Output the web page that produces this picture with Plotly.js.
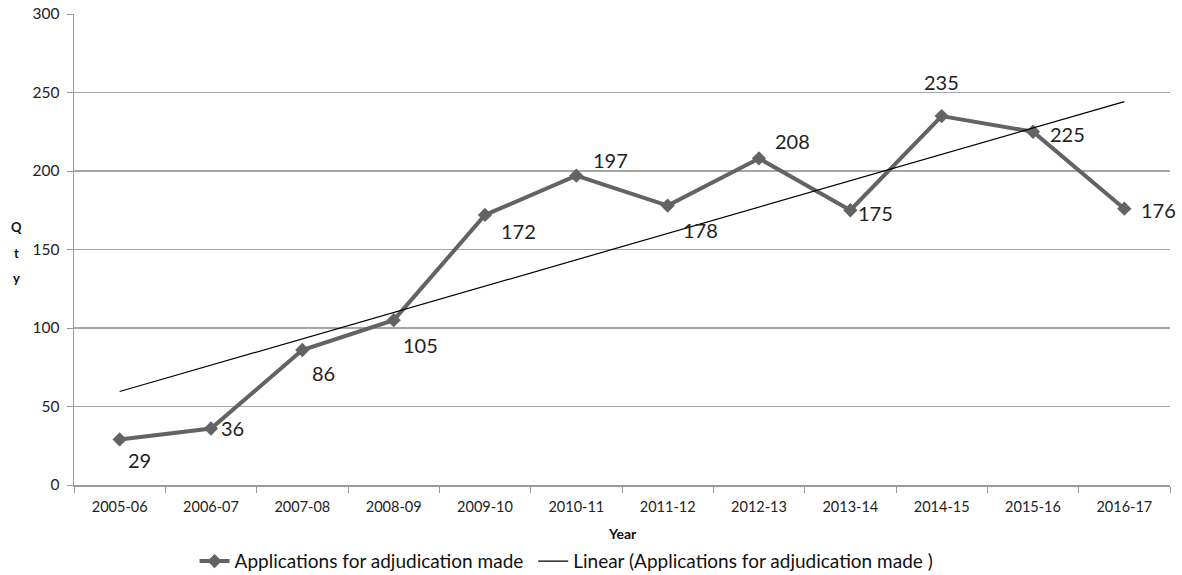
<!DOCTYPE html>
<html>
<head>
<meta charset="utf-8">
<script src="https://cdn.plot.ly/plotly-3.0.1.min.js"></script>
<style>html,body{margin:0;padding:0;background:#fff;}#chart{width:1182px;height:575px;}</style>
</head>
<body>
<div id="chart"></div>
<script>
const years = ["2005-06","2006-07","2007-08","2008-09","2009-10","2010-11","2011-12","2012-13","2013-14","2014-15","2015-16","2016-17"];
const applications = [29,36,86,105,172,197,178,208,175,235,225,176];
const seriesName = "Applications for adjudication made";
const trendName = "Linear (Applications for adjudication made )";
const yTicks = [0,50,100,150,200,250,300];
const yTitleLetters = ["Q","t","y"];
const xTitle = "Year";

// label offsets in pixels (style only)
const labelShift = [[20,-21],[21,0],[21,-23],[27,-25],[33,-16],[34,16],[33,-24],[33,17],[25,-3],[0,34],[34,-2],[34,-1]];

// least-squares linear trend computed from the data
const n = applications.length;
const xs = applications.map((_, i) => i + 1);
const mx = xs.reduce((a,b)=>a+b,0)/n;
const my = applications.reduce((a,b)=>a+b,0)/n;
let sxy = 0, sxx = 0;
for (let i = 0; i < n; i++) { sxy += (xs[i]-mx)*(applications[i]-my); sxx += (xs[i]-mx)*(xs[i]-mx); }
const slope = sxy/sxx, intercept = my - slope*mx;
const trend = xs.map(x => intercept + slope*x);

const font = "Lato, 'Open Sans', sans-serif";

const traces = [
  {x: years, y: applications, name: seriesName, type: "scatter", mode: "lines+markers", legend: "legend",
   line: {color: "#636363", width: 4}, marker: {symbol: "diamond", size: 11, color: "#636363"}},
  {x: years, y: trend, name: trendName, type: "scatter", mode: "lines", legend: "legend2",
   line: {color: "#000000", width: 1.2}}
];

const annotations = years.map((yr, i) => ({
  x: yr, y: applications[i], xref: "x", yref: "y", text: String(applications[i]),
  showarrow: false, xshift: labelShift[i][0], yshift: labelShift[i][1],
  font: {family: font, size: 20, color: "#222222"}
}));
yTitleLetters.forEach((ch, i) => {
  annotations.push({
    xref: "paper", yref: "paper", x: 0, y: 0.547 - i*0.0535, xanchor: "center", yanchor: "middle",
    xshift: -58, text: "<b>" + ch + "</b>", showarrow: false,
    font: {family: font, size: 13, color: "#111111"}
  });
});
annotations.push({
  xref: "paper", yref: "paper", x: 0.5, y: 0, xanchor: "center", yanchor: "middle",
  yshift: -48, text: "<b>" + xTitle + "</b>", showarrow: false,
  font: {family: font, size: 14, color: "#111111"}
});

const legendBase = {orientation: "h", xanchor: "left", xref: "paper",
  y: 0.024, yanchor: "middle", yref: "container",
  font: {family: font, size: 19, color: "#111111"}, tracegroupgap: 0};

const layout = {
  width: 1182, height: 575,
  margin: {l: 74, r: 12, t: 14, b: 90},
  paper_bgcolor: "#ffffff", plot_bgcolor: "#ffffff",
  font: {family: font, color: "#333333"},
  showlegend: true,
  legend: Object.assign({}, legendBase, {x: 0.11}),
  legend2: Object.assign({}, legendBase, {x: 0.419}),
  xaxis: {type: "category", range: [-0.5, 11.5], tickson: "boundaries", ticks: "outside",
          ticklen: 6, tickcolor: "#9a9a9a", showline: true, linecolor: "#9a9a9a", linewidth: 1.5,
          showgrid: false, zeroline: false, automargin: false, ticklabelstandoff: 8,
          tickfont: {family: font, size: 14.5, color: "#222222"}},
  yaxis: {range: [0, 300], tickvals: yTicks, ticks: "outside", ticklen: 6, tickcolor: "#9a9a9a",
          showline: true, linecolor: "#9a9a9a", linewidth: 1.5, showgrid: true, gridcolor: "#a6a6a6",
          gridwidth: 1.3, zeroline: false, automargin: false, ticklabelstandoff: 4,
          tickfont: {family: font, size: 15.5, color: "#222222"}},
  annotations: annotations
};

Plotly.newPlot("chart", traces, layout, {displayModeBar: false, staticPlot: true});
</script>
</body>
</html>
